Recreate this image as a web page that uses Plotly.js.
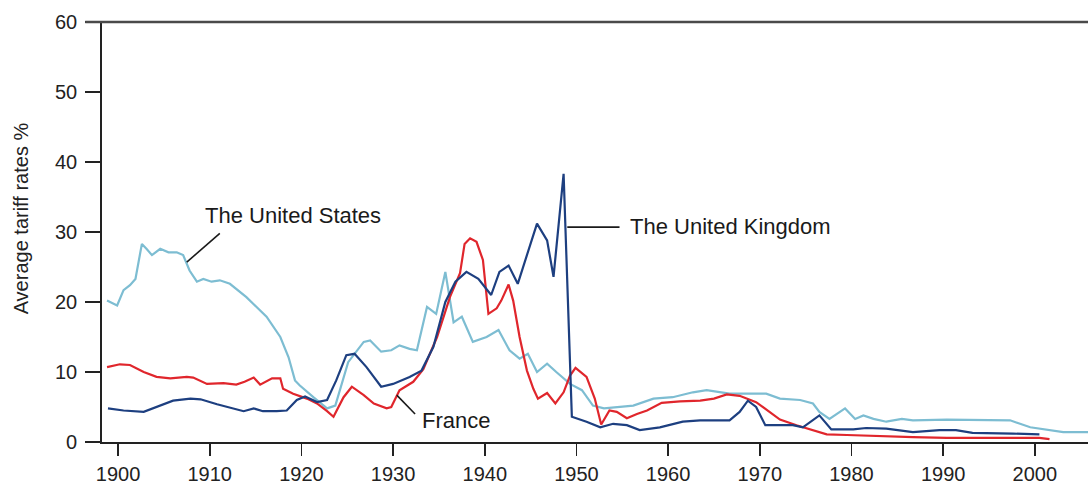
<!DOCTYPE html>
<html>
<head>
<meta charset="utf-8">
<script src="https://cdn.plot.ly/plotly-3.0.1.min.js"></script>
<style>
  html, body { margin: 0; padding: 0; background: #ffffff; }
  #chart { width: 1088px; height: 485px; }
</style>
</head>
<body>
<div id="chart"></div>
<script>
// ---- Data ----
const usYears = [1898.8,1899.9,1900.6,1901.3,1901.9,1902.6,1903.1,1903.7,1904.6,1905.5,1906.4,1907.1,1907.8,1908.6,1909.3,1910.2,1911.1,1912.2,1914.0,1916.2,1917.7,1918.6,1919.3,1919.8,1921.3,1922.8,1923.7,1924.6,1925.1,1926.8,1927.5,1928.7,1929.8,1930.7,1931.8,1932.6,1933.7,1934.7,1935.7,1936.6,1937.5,1938.7,1940.2,1941.5,1942.7,1943.8,1944.7,1945.7,1946.8,1947.8,1949.3,1950.6,1951.8,1953.0,1954.4,1956.2,1958.4,1960.5,1962.7,1964.2,1966.7,1970.7,1972.2,1974.4,1975.8,1976.5,1977.6,1979.3,1980.4,1981.3,1982.4,1983.8,1985.5,1986.7,1990.4,1994.0,1997.3,1999.5,2001.3,2003.1,2005.8];
const usRates = [20.2,19.5,21.7,22.4,23.3,28.3,27.6,26.7,27.6,27.1,27.1,26.7,24.5,22.9,23.3,22.9,23.1,22.6,20.7,17.9,15.0,12.1,8.8,8.1,6.4,4.8,5.2,9.3,11.4,14.3,14.5,12.9,13.1,13.8,13.3,13.1,19.3,18.3,24.3,17.1,17.9,14.3,15.0,16.0,13.1,11.9,12.6,10.0,11.2,10.0,8.3,7.4,5.2,4.8,5.0,5.2,6.2,6.4,7.1,7.4,6.9,6.9,6.2,6.0,5.5,4.3,3.3,4.8,3.3,3.8,3.3,2.9,3.3,3.1,3.2,3.2,3.1,2.1,1.7,1.4,1.4];

const ukYears = [1898.9,1900.6,1902.8,1904.2,1906.0,1907.9,1909.0,1910.8,1912.6,1913.7,1914.8,1915.8,1917.3,1918.4,1919.5,1920.4,1921.7,1922.8,1923.8,1924.9,1925.8,1927.1,1928.7,1930.0,1931.8,1933.1,1934.4,1935.7,1936.8,1938.0,1939.3,1940.7,1941.6,1942.6,1943.6,1945.7,1946.8,1947.5,1948.6,1949.5,1951.1,1952.6,1954.0,1955.5,1956.9,1959.1,1961.6,1963.5,1966.7,1967.8,1968.7,1969.6,1970.6,1973.6,1974.7,1976.5,1977.8,1980.2,1981.6,1983.8,1986.7,1989.6,1991.4,1993.2,1997.6,2000.5];
const ukRates = [4.8,4.5,4.3,5.0,5.9,6.2,6.1,5.4,4.8,4.4,4.8,4.4,4.4,4.5,6.0,6.5,5.7,6.0,8.8,12.4,12.6,10.7,7.9,8.3,9.3,10.2,13.6,20.0,22.9,24.3,23.3,21.0,24.3,25.2,22.6,31.2,28.8,23.6,38.3,3.6,2.9,2.1,2.6,2.4,1.7,2.1,2.9,3.1,3.1,4.3,5.9,5.0,2.4,2.4,2.1,3.8,1.8,1.8,2.0,1.9,1.4,1.7,1.7,1.3,1.2,1.1];

const frYears = [1898.8,1900.2,1901.3,1902.8,1904.2,1905.7,1907.5,1908.2,1909.7,1911.5,1912.9,1913.8,1914.8,1915.5,1916.8,1917.7,1918.0,1919.1,1920.6,1921.7,1922.8,1923.5,1924.6,1925.5,1926.8,1927.9,1929.3,1929.8,1930.7,1932.2,1933.3,1934.8,1936.2,1937.3,1937.8,1938.4,1939.1,1939.8,1940.4,1941.3,1941.8,1942.6,1943.1,1943.8,1944.6,1945.3,1945.8,1946.8,1947.7,1948.6,1949.3,1949.9,1951.1,1952.0,1952.7,1953.6,1954.4,1955.5,1956.6,1957.7,1959.3,1961.3,1963.5,1965.0,1966.4,1967.8,1969.6,1971.1,1972.2,1974.0,1975.8,1977.3,1979.5,1983.1,1986.7,1990.4,1994.0,1997.6,2000.5,2001.6];
const frRates = [10.7,11.1,11.0,10.0,9.3,9.1,9.3,9.2,8.3,8.4,8.2,8.6,9.2,8.2,9.1,9.1,7.6,6.9,6.2,5.5,4.4,3.6,6.4,7.9,6.7,5.5,4.8,5.0,7.4,8.6,10.4,15.0,20.7,24.1,28.3,29.1,28.6,26.0,18.3,19.1,20.2,22.5,20.2,15.0,10.2,7.6,6.2,7.0,5.5,7.1,9.5,10.6,9.3,6.2,2.5,4.5,4.3,3.4,4.0,4.5,5.6,5.8,5.9,6.2,6.8,6.6,5.7,4.3,3.2,2.4,1.7,1.1,1.0,0.8,0.7,0.6,0.6,0.6,0.6,0.4];

const xTickVals = [1900,1910,1920,1930,1940,1950,1960,1970,1980,1990,2000];
const yTickVals = [0,10,20,30,40,50,60];

const seriesNames = ["The United States", "The United Kingdom", "France"];
const seriesColors = ["#7dbdd2", "#1d3f80", "#e0262c"];

const yTitleText = "Average tariff rates %";

// Labels and their leader lines
const labelText = ["The United States", "France", "The United Kingdom"];
const labelPos = [[1909.3, 32.4], [1932.95, 3.1], [1955.6, 30.8]];
const leaderLines = [[1911.1, 29.8, 1907.5, 25.7], [1930.4, 6.7, 1932.4, 4.0], [1949.0, 30.7, 1954.7, 30.7]];

// ---- Chart ----
const FONT = "Liberation Sans, Arial, Helvetica, sans-serif";

const traces = [
  {x: usYears, y: usRates, name: seriesNames[0], mode: "lines", line: {color: seriesColors[0], width: 2.2}},
  {x: frYears, y: frRates, name: seriesNames[2], mode: "lines", line: {color: seriesColors[2], width: 2.2}},
  {x: ukYears, y: ukRates, name: seriesNames[1], mode: "lines", line: {color: seriesColors[1], width: 2.2}}
];

const annotations = labelText.map((t, i) => ({
  text: t, x: labelPos[i][0], y: labelPos[i][1], xref: "x", yref: "y",
  xanchor: "left", yanchor: "middle", showarrow: false,
  font: {family: FONT, size: 22, color: "#1a1a1a"}
}));

// y-axis title placed to match the reference position
annotations.push({
  text: yTitleText, xref: "paper", yref: "paper", x: -0.0821, y: 0.5326,
  xanchor: "center", yanchor: "middle", textangle: -90, showarrow: false,
  font: {family: FONT, size: 20, color: "#222222"}
});

const shapes = leaderLines.map(l => ({
  type: "line", xref: "x", yref: "y", x0: l[0], y0: l[1], x1: l[2], y1: l[3],
  line: {color: "#1a1a1a", width: 1.6}
}));
shapes.push({type: "line", xref: "paper", yref: "paper", x0: -0.017, x1: 1, y0: 1, y1: 1,
  line: {color: "#4a4a4a", width: 2.5}});

const layout = {
  width: 1088, height: 485,
  margin: {l: 102, r: 0, t: 22, b: 43, pad: 0},
  paper_bgcolor: "#ffffff", plot_bgcolor: "#ffffff",
  showlegend: false,
  font: {family: FONT, color: "#222222"},
  xaxis: {
    range: [1898.25, 2005.8], tickmode: "array", tickvals: xTickVals,
    ticktext: xTickVals.map(String),
    ticks: "outside", ticklen: 12, tickwidth: 1.6, tickcolor: "#222222",
    showline: true, linewidth: 2, linecolor: "#222222",
    showgrid: false, zeroline: false, ticklabelstandoff: 1,
    tickfont: {family: FONT, size: 20, color: "#222222"}
  },
  yaxis: {
    range: [0, 60], tickmode: "array", tickvals: yTickVals,
    ticktext: yTickVals.map(String),
    ticks: "outside", ticklen: 15, tickwidth: 1.6, tickcolor: "#222222",
    showline: true, linewidth: 1.8, linecolor: "#222222",
    showgrid: false, zeroline: false, ticklabelstandoff: 4,
    tickfont: {family: FONT, size: 20, color: "#222222"}
  },
  annotations: annotations,
  shapes: shapes
};

Plotly.newPlot("chart", traces, layout, {displayModeBar: false, staticPlot: true});
</script>
</body>
</html>
